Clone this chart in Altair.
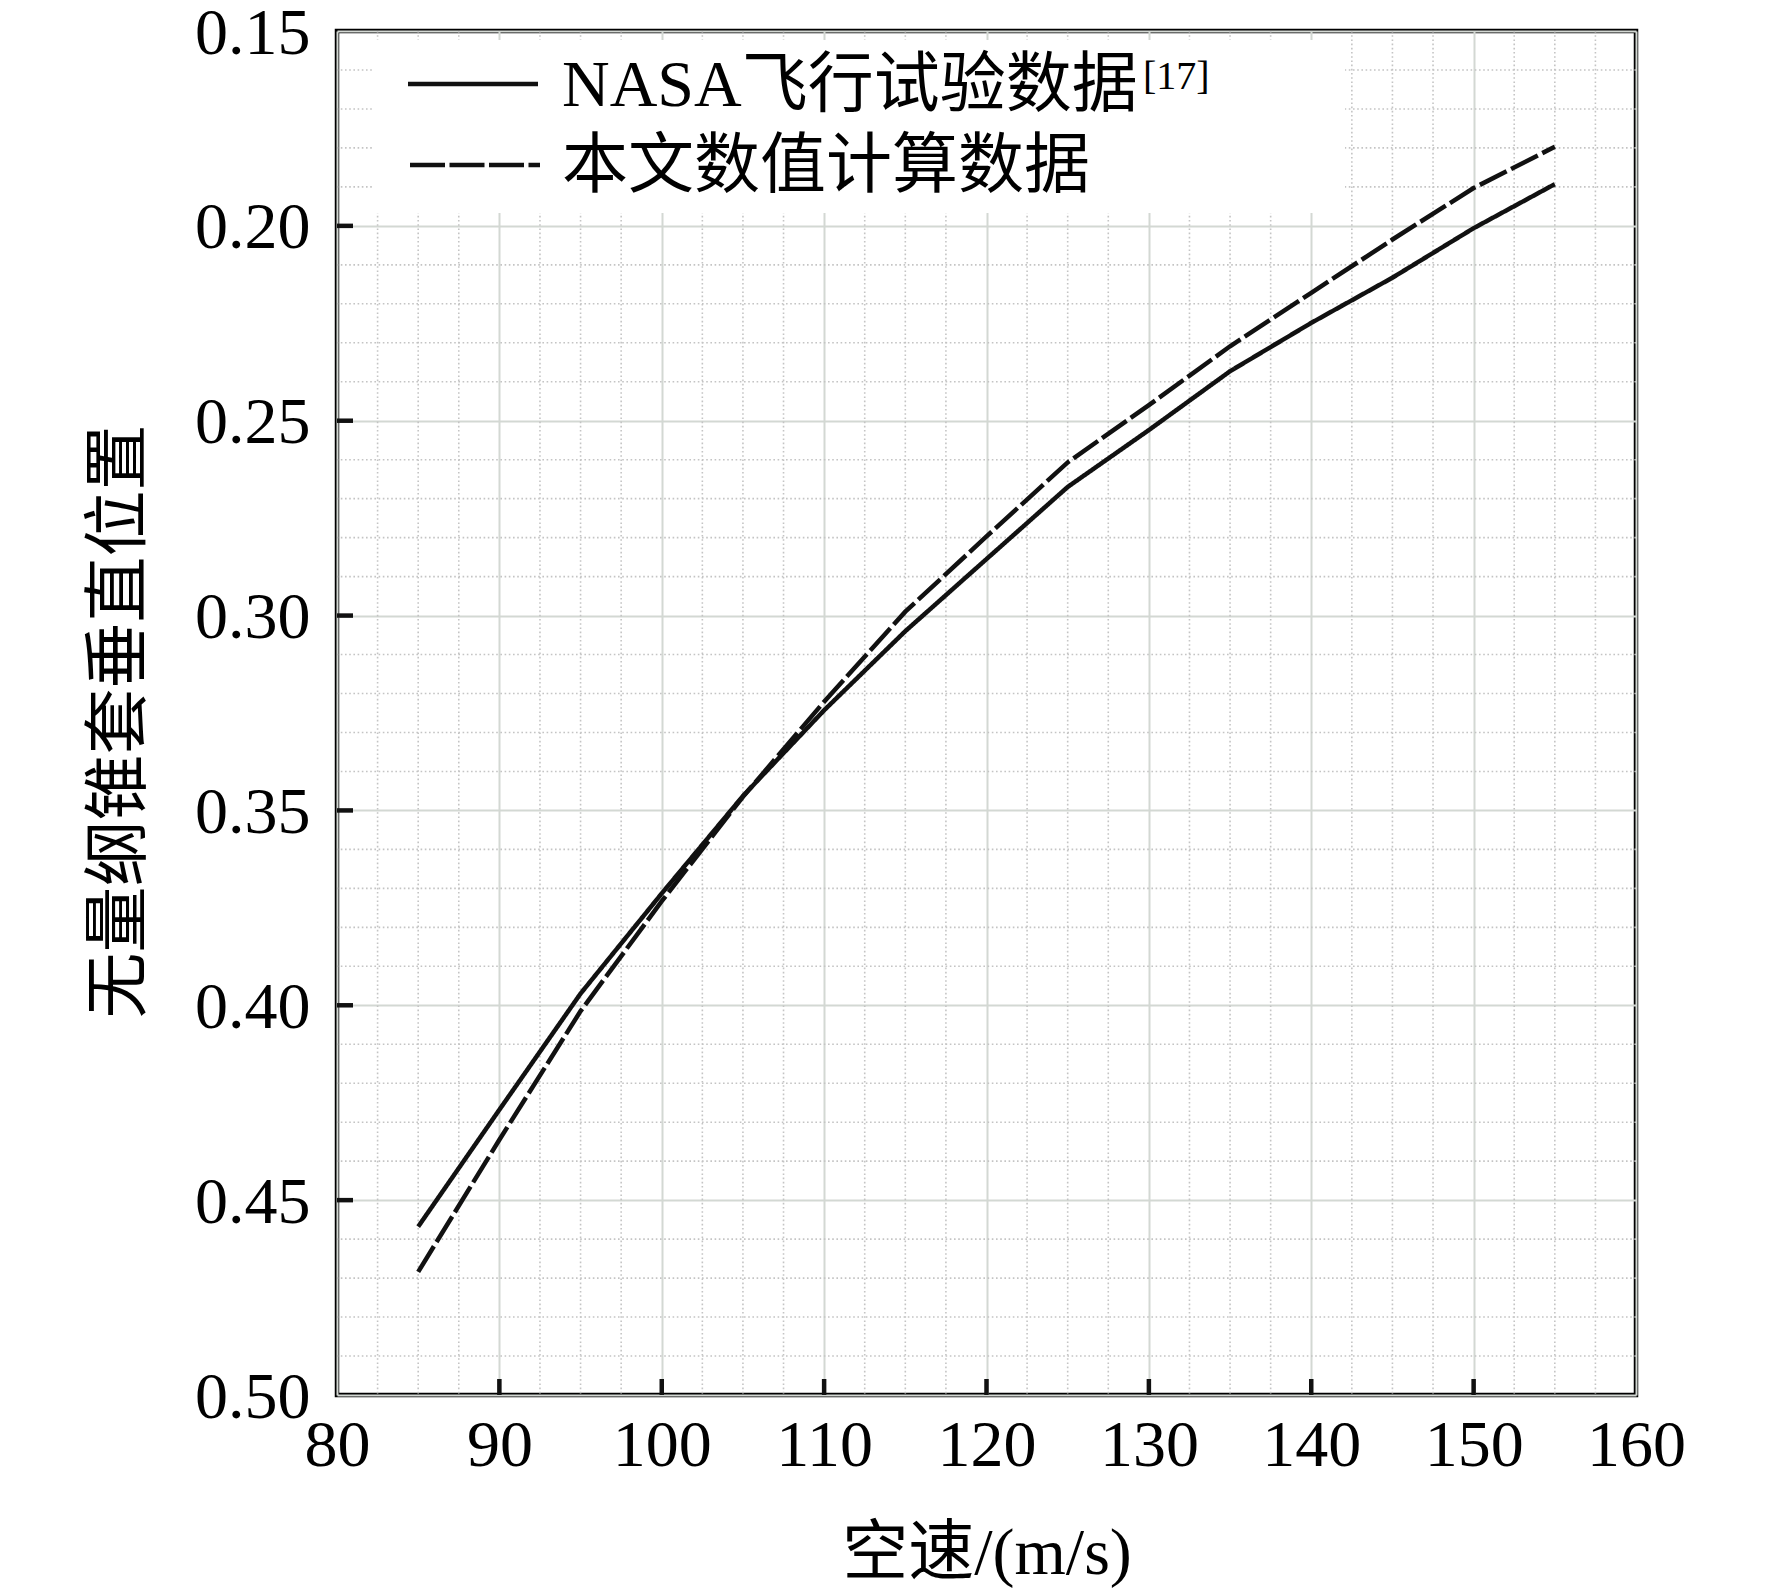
import altair as alt
import pandas as pd

# ---- data ----
speed = [85, 90, 95, 100, 105, 110, 115, 120, 125, 130, 135, 140, 145, 150, 155]
nasa = [0.4568, 0.4268, 0.3970, 0.3713, 0.3463, 0.3243, 0.3040, 0.2855,
        0.2670, 0.2524, 0.2373, 0.2249, 0.2133, 0.2006, 0.1893]
calc = [0.4684, 0.4345, 0.4015, 0.3733, 0.3465, 0.3221, 0.2990, 0.2797,
        0.2607, 0.2460, 0.2309, 0.2172, 0.2035, 0.1903, 0.1797]
series_names = ["NASA飞行试验数据", "本文数值计算数据"]
superscript = "[17]"
x_title = "空速/(m/s)"
y_title = "无量纲锥套垂直位置"

x_ticks = [80, 90, 100, 110, 120, 130, 140, 150, 160]
y_ticks = [0.15, 0.20, 0.25, 0.30, 0.35, 0.40, 0.45, 0.50]
x_inner_ticks = [90, 100, 110, 120, 130, 140, 150]
y_inner_ticks = [0.20, 0.25, 0.30, 0.35, 0.40, 0.45]
x_minor = [v / 2 for v in range(165, 320, 5) if (v / 2) % 10 != 0]
y_minor = [round(0.15 + 0.01 * i, 2) for i in range(1, 35) if i % 5 != 0]

W, H = 1299, 1364
FONT = "Liberation Serif, Noto Sans CJK SC"
INK = "#111111"

df = pd.DataFrame({
    "speed": speed * 2,
    "pos": nasa + calc,
    "series": [series_names[0]] * len(speed) + [series_names[1]] * len(speed),
})

xs = alt.Scale(domain=[80, 160], nice=False, zero=False)
ys = alt.Scale(domain=[0.15, 0.50], nice=False, zero=False, reverse=True)
x_axis = alt.Axis(values=x_ticks, format="d", title=x_title,
                  titleY=158, titleBaseline="middle")
y_axis = alt.Axis(values=y_ticks, format=".2f", title=y_title,
                  titleX=-218, titleY=H / 2 + 8, titleAngle=270,
                  titleBaseline="middle", titleAlign="center", labelOffset=2)
one = alt.Data(values=[{"k": 1}])

minor_x = alt.Chart(pd.DataFrame({"gx": x_minor})).mark_rule(
    color="#c4c4c4", strokeWidth=1.6, strokeDash=[1.6, 2.6]
).encode(x=alt.X("gx:Q", scale=xs, axis=x_axis))

minor_y = alt.Chart(pd.DataFrame({"gy": y_minor})).mark_rule(
    color="#c4c4c4", strokeWidth=1.6, strokeDash=[1.6, 2.6]
).encode(y=alt.Y("gy:Q", scale=ys, axis=y_axis))

lines = alt.Chart(df).mark_line(strokeWidth=4.5, color=INK).encode(
    x=alt.X("speed:Q", scale=xs, axis=x_axis),
    y=alt.Y("pos:Q", scale=ys, axis=y_axis),
    strokeDash=alt.StrokeDash("series:N",
                              scale=alt.Scale(domain=series_names, range=[[1, 0], [30, 5]]),
                              legend=None),
)

xtick = alt.Chart(pd.DataFrame({"tx": x_inner_ticks})).mark_rule(
    color=INK, strokeWidth=4.5
).encode(x=alt.X("tx:Q", scale=xs, axis=x_axis), y=alt.value(H), y2=alt.value(H - 16))

ytick = alt.Chart(pd.DataFrame({"ty": y_inner_ticks})).mark_rule(
    color=INK, strokeWidth=4.5
).encode(y=alt.Y("ty:Q", scale=ys, axis=y_axis), x=alt.value(0), x2=alt.value(16))

# ---- legend (drawn manually to allow the superscript) ----
leg_bg = alt.Chart(one).mark_rect(color="white").encode(
    x=alt.value(35), x2=alt.value(1008), y=alt.value(9), y2=alt.value(182))
leg_solid = alt.Chart(one).mark_rule(color=INK, strokeWidth=4.5).encode(
    x=alt.value(71), x2=alt.value(201), y=alt.value(53))
leg_dash = alt.Chart(one).mark_rule(color=INK, strokeWidth=4.5, strokeDash=[35, 4.5]).encode(
    x=alt.value(73), x2=alt.value(203), y=alt.value(134))
leg_t1 = alt.Chart(one).mark_text(align="left", baseline="middle", font=FONT,
                                  fontSize=66, color="black").encode(
    x=alt.value(225), y=alt.value(55), text=alt.value(series_names[0]))
leg_sup = alt.Chart(one).mark_text(align="left", baseline="middle", font=FONT,
                                   fontSize=40, color="black").encode(
    x=alt.value(806), y=alt.value(46), text=alt.value(superscript))
leg_t2 = alt.Chart(one).mark_text(align="left", baseline="middle", font=FONT,
                                  fontSize=66, color="black").encode(
    x=alt.value(225), y=alt.value(136), text=alt.value(series_names[1]))

chart = alt.layer(
    minor_x, minor_y, lines, xtick, ytick,
    leg_bg, leg_solid, leg_dash, leg_t1, leg_sup, leg_t2,
).properties(
    width=W, height=H,
    autosize=alt.AutoSizeParams(type="none"),
    padding={"left": 329, "top": 23, "right": 100, "bottom": 193},
    background="white",
).configure_view(
    stroke="black", strokeWidth=4.5
).configure_axis(
    domain=False, ticks=False, grid=True, gridColor="#d3d8d3", gridWidth=2,
    labelFont="Liberation Serif", labelFontSize=66, labelColor="black",
    labelFlush=False, labelOverlap=False, labelBound=False,
    titleFont=FONT, titleFontSize=66, titleFontWeight="normal", titleColor="black",
).configure_axisX(
    labelPadding=50, labelBaseline="middle"
).configure_axisY(
    labelPadding=27, labelBaseline="middle", labelAlign="right"
)

chart.save("out.html", embed_options={"renderer": "svg", "actions": False})
